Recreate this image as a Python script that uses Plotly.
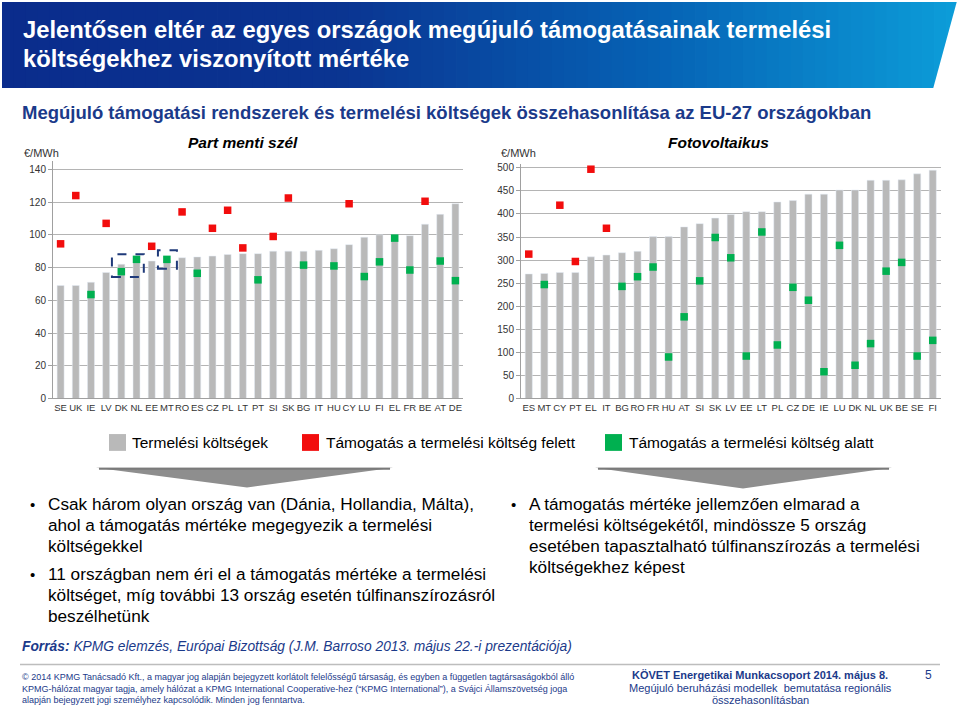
import plotly.graph_objects as go

# ---------------- data ----------------
wind_countries = ["SE","UK","IE","LV","DK","NL","EE","MT","RO","ES","CZ","PL","LT","PT",
                  "SI","SK","BG","IT","HU","CY","LU","FI","EL","FR","BE","AT","DE"]
wind_cost = [69, 69, 71, 77, 82, 83, 84, 84.5, 86, 86.5, 87, 88, 88.5, 88.5,
             90, 90, 90, 90.5, 91.5, 94, 98.5, 100, 100, 99.5, 106.5, 112.5, 119]
wind_above = [94.5, 124, None, 107, None, None, 93, None, 114, None, 104, 115, 92, None,
              99, 122.5, None, 146.5, None, 119, None, None, None, None, 120.5, None, None]
wind_below = [None, None, 63.5, None, 77.5, 85, None, 85, None, 76.5, None, None, None, 72.5,
              None, None, 81.5, None, 81, None, 74.5, 83.5, 98, 78.5, None, 84, 72]

pv_countries = ["ES","MT","CY","PT","EL","IT","BG","RO","FR","HU","AT","SI","SK","LV",
                "EE","LT","PL","CZ","DE","IE","LU","DK","NL","UK","BE","SE","FI"]
pv_cost = [270, 271, 273, 273, 307, 311, 316, 319, 351, 351, 372, 379, 391, 399,
           405, 405, 426, 429, 443, 443, 452, 452, 473, 473, 474, 487, 495]
pv_above = [313, None, 419, 297, 497, 369, None, None, None, None, None, None, None, None,
            None, None, None, None, None, None, None, None, None, None, None, None, None]
pv_below = [None, 247, None, None, None, None, 243, 264, 285, 90, 177, 255, 349, 305,
            92, 361, 116, 241, 213, 58, 332, 72, 119, 276, 295, 92, 126]

wind_ticks = [0, 20, 40, 60, 80, 100, 120, 140]
pv_ticks = [0, 50, 100, 150, 200, 250, 300, 350, 400, 450, 500]

legend_labels = ["Termelési költségek", "Támogatás a termelési költség felett",
                 "Támogatás a termelési költség alatt"]

# ---------------- styles ----------------
W, H = 959, 709
FONT = "Arial, Liberation Sans, sans-serif"
NAVY = "#1B3A8A"
BAR = "#B9B9B9"
RED = "#F20D0D"
GREEN = "#00B050"
GRID = "#B4B4B4"


def px(x):
    return x / W


def py(y):
    return 1 - y / H


fig = go.Figure()

# charts
fig.add_trace(go.Bar(x=wind_countries, y=wind_cost, marker_color=BAR, name=legend_labels[0],
                     xaxis="x", yaxis="y", showlegend=False))
fig.add_trace(go.Scatter(x=wind_countries, y=wind_above, mode="markers", name=legend_labels[1],
                         marker=dict(symbol="square", size=7.5, color=RED),
                         xaxis="x", yaxis="y", cliponaxis=False, showlegend=False))
fig.add_trace(go.Scatter(x=wind_countries, y=wind_below, mode="markers", name=legend_labels[2],
                         marker=dict(symbol="square", size=7.5, color=GREEN),
                         xaxis="x", yaxis="y", cliponaxis=False, showlegend=False))

fig.add_trace(go.Bar(x=pv_countries, y=pv_cost, marker_color=BAR, name=legend_labels[0],
                     xaxis="x2", yaxis="y2", showlegend=False))
fig.add_trace(go.Scatter(x=pv_countries, y=pv_above, mode="markers", name=legend_labels[1],
                         marker=dict(symbol="square", size=7.5, color=RED),
                         xaxis="x2", yaxis="y2", cliponaxis=False, showlegend=False))
fig.add_trace(go.Scatter(x=pv_countries, y=pv_below, mode="markers", name=legend_labels[2],
                         marker=dict(symbol="square", size=7.5, color=GREEN),
                         xaxis="x2", yaxis="y2", cliponaxis=False, showlegend=False))

axis_common = dict(showline=True, linecolor="#A0A0A0", linewidth=1)
yfont = dict(family=FONT, size=10, color="#333333")
xfont = dict(family=FONT, size=9.5, color="#333333")

fig.update_layout(
    width=W, height=H, margin=dict(l=0, r=0, t=0, b=0),
    paper_bgcolor="white", plot_bgcolor="white",
    bargap=0.54, showlegend=False,
    xaxis=dict(domain=[px(53), px(463)], anchor="y", type="category",
               range=[-0.5, 26.5], ticks="", tickangle=0, tickfont=xfont, **axis_common),
    yaxis=dict(domain=[py(401), py(161)], anchor="x", range=[0, 145],
               tickvals=wind_ticks, showgrid=True, gridcolor=GRID, gridwidth=1,
               ticks="outside", ticklen=4, tickcolor="#A0A0A0", zeroline=False,
               tickfont=yfont, **axis_common),
    xaxis2=dict(domain=[px(521), px(940.5)], anchor="y2", type="category",
                range=[-0.5, 26.5], ticks="", tickangle=0, tickfont=xfont, **axis_common),
    yaxis2=dict(domain=[py(401), py(164)], anchor="x2", range=[0, 508],
                tickvals=pv_ticks, showgrid=True, gridcolor=GRID, gridwidth=1,
                ticks="outside", ticklen=4, tickcolor="#A0A0A0", zeroline=False,
                tickfont=yfont, **axis_common),
)

shapes = []
# banner gradient
stops = [(0.0, (10, 44, 140)), (0.35, (10, 52, 145)), (0.7, (6, 100, 182)), (1.0, (12, 156, 216))]


def col_at(t):
    for (t0, c0), (t1, c1) in zip(stops[:-1], stops[1:]):
        if t0 <= t <= t1:
            f = (t - t0) / (t1 - t0)
            return "rgb(%d,%d,%d)" % tuple(round(a + (b - a) * f) for a, b in zip(c0, c1))
    return "rgb(%d,%d,%d)" % stops[-1][1]


n = 80
x0b, x1b = 2, 958
for i in range(n):
    a = x0b + (x1b - x0b) * i / n
    b = x0b + (x1b - x0b) * (i + 1) / n + 0.8
    shapes.append(dict(type="rect", xref="paper", yref="paper", x0=px(a), x1=px(min(b, W)),
                       y0=py(87), y1=py(0), fillcolor=col_at(i / (n - 1)), line_width=0,
                       layer="below"))
# slanted right edge (white cover)
shapes.append(dict(type="path", xref="paper", yref="paper",
                   path="M %f %f L %f %f L %f %f L %f %f Z" % (
                       px(957), py(-1), px(960), py(-1), px(960), py(88), px(933), py(88)),
                   fillcolor="white", line_width=0, layer="below"))

# dashed boxes (DK-NL, MT)
shapes.append(dict(type="rect", xref="x", yref="y", x0=3.38, x1=5.48, y0=74.3, y1=88.2,
                   line=dict(color="#1F3A7A", width=2, dash="dash"), fillcolor="rgba(0,0,0,0)"))
shapes.append(dict(type="rect", xref="x", yref="y", x0=6.41, x1=7.66, y0=79.2, y1=90.6,
                   line=dict(color="#1F3A7A", width=2, dash="dash"), fillcolor="rgba(0,0,0,0)"))

# legend squares
for (xa, xb), c in zip([(109, 126), (302, 319), (605, 622)], [BAR, RED, GREEN]):
    shapes.append(dict(type="rect", xref="paper", yref="paper", x0=px(xa), x1=px(xb),
                       y0=py(454), y1=py(437), fillcolor=c, line_width=0))

# down arrows
for (l, r, ax, ay) in [(96, 393, 247, 491), (595, 892, 743, 492)]:
    shapes.append(dict(type="path", xref="paper", yref="paper",
                       path="M %f %f L %f %f L %f %f Z" % (px(l), py(471), px(r), py(471), px(ax), py(ay)),
                       fillcolor="#8E8E8E", line_width=0))
    shapes.append(dict(type="line", xref="paper", yref="paper", x0=px(l + 3), x1=px(r - 3),
                       y0=py(472), y1=py(472), line=dict(color="#7A7A7A", width=2)))

# separator line
shapes.append(dict(type="line", xref="paper", yref="paper", x0=px(20), x1=px(940),
                   y0=py(670), y1=py(670), line=dict(color="#BDBDBD", width=1.5)))

fig.update_layout(shapes=shapes)

ann = []


def text(x, y, s, size, color="#000000", bold=False, italic=False, anchor="left"):
    if bold:
        s = "<b>%s</b>" % s
    if italic:
        s = "<i>%s</i>" % s
    ann.append(dict(x=px(x), y=py(y), xref="paper", yref="paper", text=s, showarrow=False,
                    xanchor=anchor, yanchor="middle",
                    font=dict(family=FONT, size=size, color=color)))


# titles
text(21, 28, "Jelentősen eltér az egyes országok megújuló támogatásainak termelési", 23.8, "white", bold=True)
text(21, 57, "költségekhez viszonyított mértéke", 23.8, "white", bold=True)
text(20, 112, "Megújuló támogatási rendszerek és termelési költségek összehasonlítása az EU-27 országokban",
     18.5, NAVY, bold=True)
text(243, 142, "Part menti szél", 15.5, "#000000", bold=True, italic=True, anchor="center")
text(718, 142, "Fotovoltaikus", 15.5, "#000000", bold=True, italic=True, anchor="center")
text(22, 153, "€/MWh", 11, "#333333")
text(499, 153, "€/MWh", 11, "#333333")

# legend labels
for x, s in zip([130, 324, 627], legend_labels):
    text(x, 446, s, 15.5, "#000000")

# bullets
left_lines = [
    (508, "Csak három olyan ország van (Dánia, Hollandia, Málta),", True),
    (529, "ahol a támogatás mértéke megegyezik a termelési", False),
    (550, "költségekkel", False),
    (579, "11 országban nem éri el a támogatás mértéke a termelési", True),
    (600, "költséget, míg további 13 ország esetén túlfinanszírozásról", False),
    (621, "beszélhetünk", False),
]
for y, s, bullet in left_lines:
    if bullet:
        text(28, y, "•", 15, "#000000")
    text(46, y, s, 17.2, "#000000")

right_lines = [
    (508, "A támogatás mértéke jellemzően elmarad a", True),
    (529, "termelési költségekétől, mindössze 5 ország", False),
    (550, "esetében tapasztalható túlfinanszírozás a termelési", False),
    (571, "költségekhez képest", False),
]
for y, s, bullet in right_lines:
    if bullet:
        text(509, y, "•", 15, "#000000")
    text(527, y, s, 17.2, "#000000")

# source
ann.append(dict(x=px(20), y=py(652), xref="paper", yref="paper", showarrow=False,
                xanchor="left", yanchor="middle",
                text="<i><b>Forrás:</b> KPMG elemzés, Európai Bizottság (J.M. Barroso 2013. május 22.-i prezentációja)</i>",
                font=dict(family=FONT, size=13.8, color=NAVY)))

# footer
foot = [
    "© 2014 KPMG Tanácsadó Kft., a magyar jog alapján bejegyzett korlátolt felelősségű társaság, és egyben a független tagtársaságokból álló",
    "KPMG-hálózat magyar tagja, amely hálózat a KPMG International Cooperative-hez (“KPMG International”), a Svájci Államszövetség joga",
    "alapján bejegyzett jogi személyhez kapcsolódik. Minden jog fenntartva.",
]
for y, s in zip([683, 695, 706], foot):
    text(20, y, s, 9, NAVY)

text(760, 681, "KÖVET Energetikai Munkacsoport 2014. május 8.", 11, NAVY, bold=True, anchor="center")
text(760, 694, "Megújuló beruházási modellek  bemutatása regionális", 11, NAVY, anchor="center")
text(760, 706, "összehasonlításban", 11, NAVY, anchor="center")
text(928, 681, "5", 12, NAVY, anchor="center")

fig.update_layout(annotations=ann)

fig.write_html("out.html")
